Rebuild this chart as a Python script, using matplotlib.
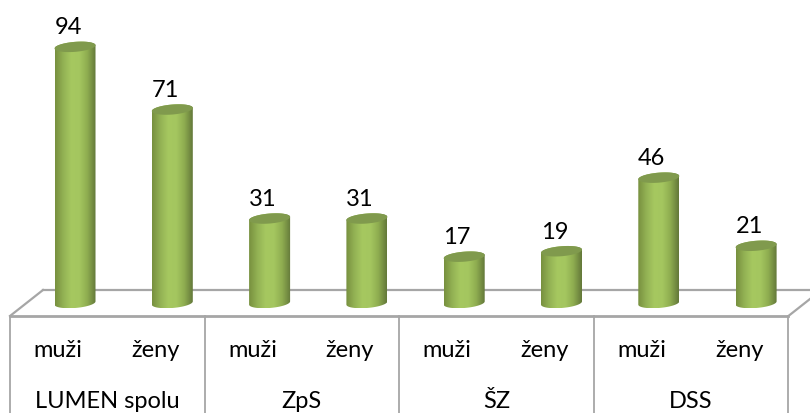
import matplotlib
matplotlib.use("Agg")
import matplotlib.pyplot as plt
import numpy as np
from matplotlib.colors import LinearSegmentedColormap
from matplotlib.patches import PathPatch
from matplotlib.path import Path

plt.rcParams["font.family"] = ["Lato", "DejaVu Sans"]

groups = ["LUMEN spolu", "ZpS", "ŠZ", "DSS"]
sexes = ["muži", "ženy"]
men = [94, 31, 17, 46]
women = [71, 31, 19, 21]

W, H = 810, 414
# pixel scale of the chart
X0, DX = 75.0, 97.3
Y0, DY = 304.0, 2.725
LINE = "#a6a6a6"
FONT = 17

bar_cmap = LinearSegmentedColormap.from_list(
    "cyl", ["#78913f", "#93b254", "#a6c860", "#a4c65f", "#8eac50", "#64793a"])
CAP = "#809a4d"

values = [v for pair in zip(men, women) for v in pair]
fig = plt.figure(figsize=(W / 100, H / 100), dpi=100)
ax = fig.add_axes([0, 0, 1, 1])
# limits chosen so one bar slot = 1 x unit and one data unit = DY pixels
ax.set_xlim(-X0 / DX, (W - X0) / DX)
ax.set_ylim((Y0 - H) / DY, Y0 / DY)
ax.axis("off")

sx, sy = 1 / DX, 1 / DY
half_w = 20.5 * sx
half_h = 5.0 * sy
tilt = 1.6 * sy


def ellipse(x, y, t):
    return np.column_stack([x + half_w * np.cos(t),
                            y + half_h * np.sin(t) + tilt * np.cos(t)])


# floor of the 3d plot
left = -65 * sx
right = left + len(values)
depth_x = 33 * sx
front = -13 * sy
back = 13 * sy
ax.plot([left + depth_x, right + depth_x], [back, back], color=LINE, lw=1.6, zorder=1)
ax.plot([left, left + depth_x], [front, back], color=LINE, lw=1.6, zorder=1)
ax.plot([right, right + depth_x], [front, back], color=LINE, lw=1.6, zorder=1)
ax.plot([left, right], [front, front], color=LINE, lw=2.0, zorder=1)

# category table below the floor
edges = [left + 2 * i for i in range(len(groups) + 1)]
for e in edges:
    ax.plot([e, e], [front, ax.get_ylim()[0]], color=LINE, lw=1.3, zorder=1)

# cylinders
grad = np.linspace(0, 1, 64)[None, :]
for i, v in enumerate(values):
    low = np.linspace(np.pi, 2 * np.pi, 40)
    high = np.linspace(0, np.pi, 40)
    outline = np.vstack([ellipse(i, 0, low), ellipse(i, v, high)])
    clip = PathPatch(Path(np.vstack([outline, outline[:1]]), closed=True),
                     transform=ax.transData, fc="none", ec="none")
    ax.add_patch(clip)
    im = ax.imshow(grad, cmap=bar_cmap, aspect="auto", zorder=3,
                   extent=[i - half_w, i + half_w, -2, v + 2])
    im.set_clip_path(clip)
    ax.fill(*ellipse(i, v, np.linspace(0, 2 * np.pi, 80)).T, color=CAP, lw=0, zorder=4)
    # value labels sit a little left of the bar centre
    ax.text(i - 7 * sx, v + 20 * sy, str(v), ha="center", va="center", fontsize=FONT,
            color="#000000", zorder=5)

ax.set_xlim(-X0 / DX, (W - X0) / DX)
ax.set_ylim((Y0 - H) / DY, Y0 / DY)

# axis labels
for i in range(len(values)):
    ax.text(i - 17 * sx, -47 * sy, sexes[i % 2], ha="center",
            va="center", fontsize=FONT, color="#000000")
for g, name in enumerate(groups):
    ax.text((edges[g] + edges[g + 1]) / 2, -98 * sy, name, ha="center", va="center",
            fontsize=FONT, color="#000000")

fig.savefig("out.png", dpi=100)
